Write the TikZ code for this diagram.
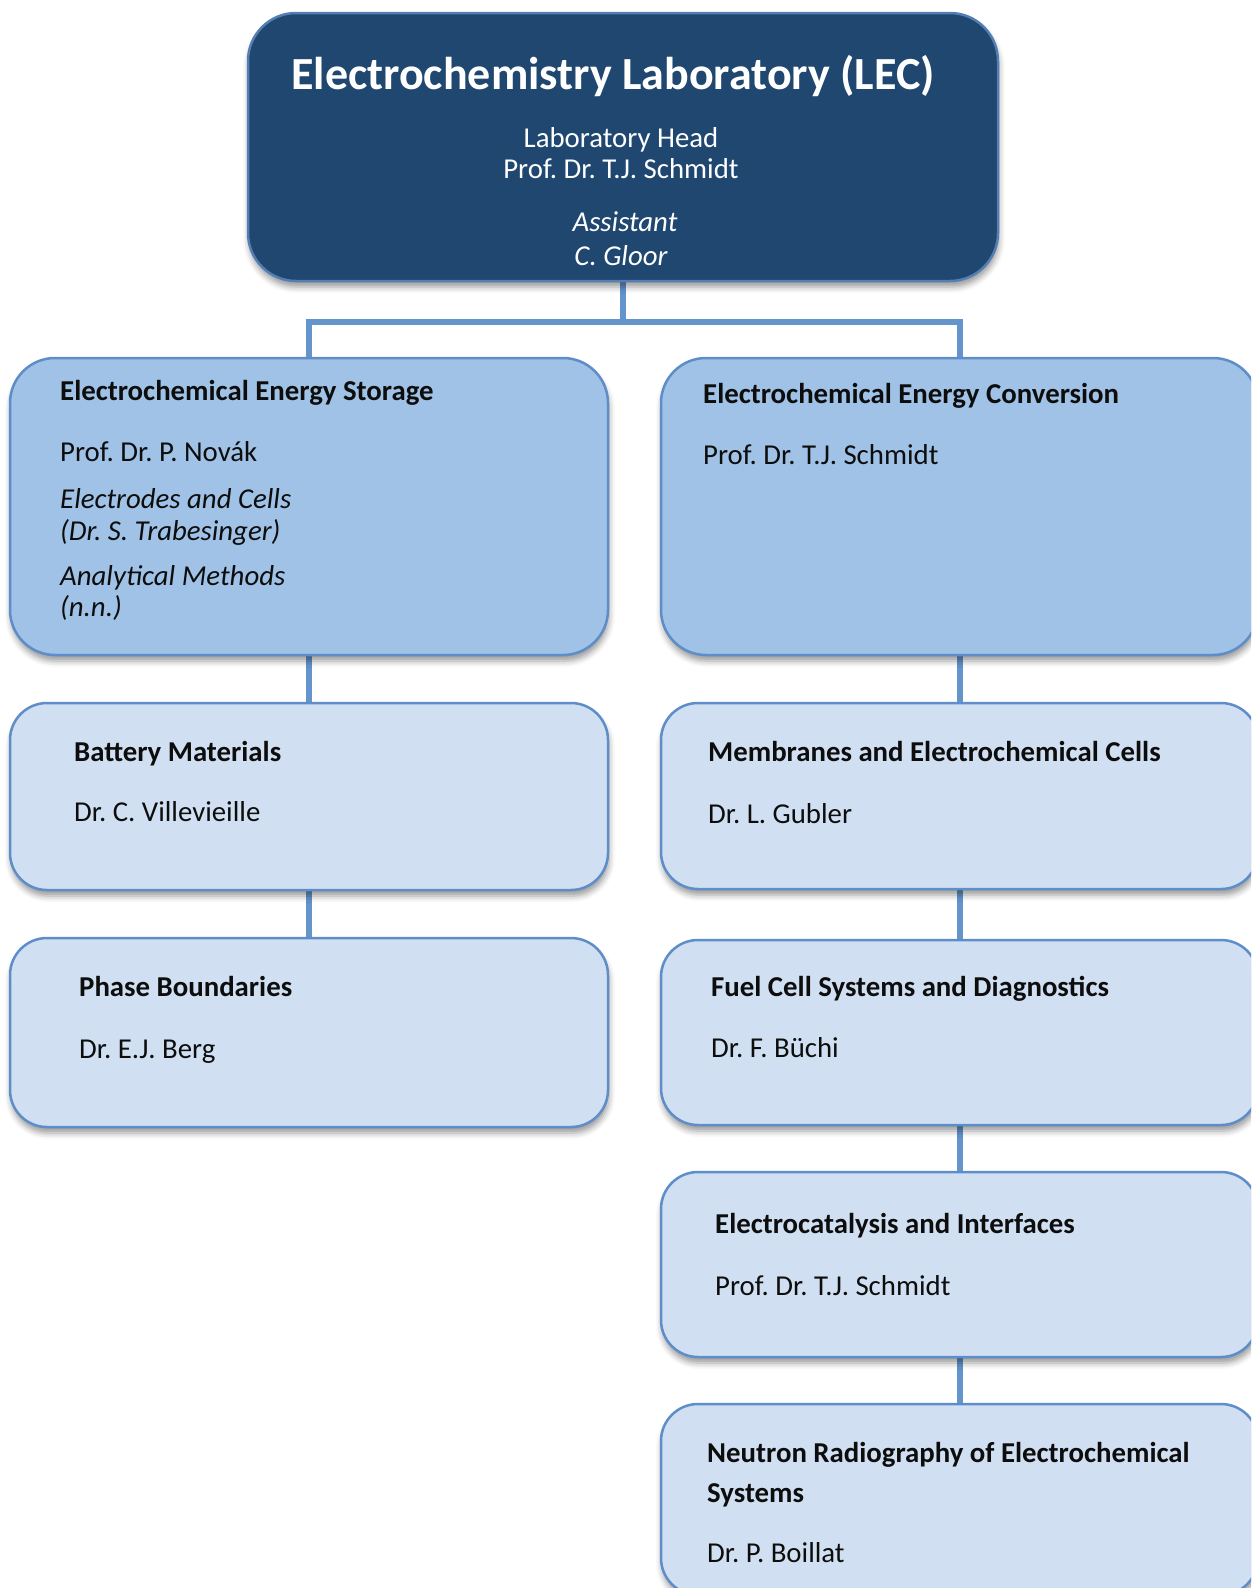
\documentclass[tikz,border=0pt]{standalone}
\usepackage{fontspec}
\setmainfont{Carlito}
\usepackage{xcolor}
\usepackage{tikz}
\usetikzlibrary{positioning,calc,shadows.blur}
\frenchspacing
\definecolor{HeadFill}{RGB}{31,71,112}
\definecolor{HeadLine}{RGB}{84,126,180}
\definecolor{DivFill}{RGB}{159,194,230}
\definecolor{GrpFill}{RGB}{208,224,242}
\definecolor{BoxLine}{RGB}{94,141,200}
\definecolor{LinkC}{RGB}{99,148,204}
\tikzset{
  orgbox/.style={rounded corners=40pt,line width=2.5pt,draw=BoxLine,
                 inner sep=0pt,outer sep=0pt,
                 blur shadow={shadow xshift=1pt,shadow yshift=-6pt,
                              shadow opacity=40,shadow blur radius=6pt}},
  head/.style={orgbox,fill=HeadFill,draw=HeadLine,rounded corners=48pt},
  division/.style={orgbox,fill=DivFill,rounded corners=45pt},
  group/.style={orgbox,fill=GrpFill,rounded corners=37pt},
  link/.style={line width=6pt,draw=LinkC},
  txt/.style={anchor=base west,inner sep=0pt,text=black!95,
              font=\fontsize{28.8}{34}\selectfont},
  ttl/.style={txt,font=\fontsize{28.8}{34}\selectfont\bfseries},
  itx/.style={txt,font=\fontsize{28.8}{34}\selectfont\itshape},
  htxt/.style={anchor=base,inner sep=0pt,text=white,
               font=\fontsize{28.8}{34}\selectfont},
}

\begin{document}
\begin{tikzpicture}[x=1pt,y=-1pt]
  \useasboundingbox (0,0) rectangle (1251,1588);
  \clip (0,0) rectangle (1251,1588);

  % connectors
  \coordinate (bar) at (623,322);
  \coordinate (lecfoot) at (623,281);
  \draw[link] (lecfoot) -- (bar);
  \draw[link] (309,358) |- (bar) -| (959.5,358);
  \draw[link] (309,655) -- (309,703);
  \draw[link] (309,890) -- (309,938);
  \draw[link] (959.5,655) -- (959.5,703);
  \draw[link] (959.5,889) -- (959.5,940);
  \draw[link] (959.5,1125) -- (959.5,1172);
  \draw[link] (959.5,1357) -- (959.5,1404);

  % laboratory head
  \node[head,minimum width=750pt,minimum height=268pt] (lec) at (623,147) {};
  \node[htxt,font=\fontsize{46}{54}\selectfont\bfseries] (lec-ttl) at (613,89)
    {Electrochemistry Laboratory (LEC)};
  \node[htxt] (lec-role) at (621,147) {Laboratory Head};
  \node[htxt] (lec-name) at (621,178) {Prof. Dr. T.J. Schmidt};
  \node[htxt,font=\fontsize{28.8}{34}\selectfont\itshape] (lec-asst) at (625,231) {Assistant};
  \node[htxt,font=\fontsize{28.8}{34}\selectfont\itshape] (lec-asnm) at (621,265) {C. Gloor};

  % storage column
  \node[division,minimum width=598pt,minimum height=297pt] (ees) at (309,506.5) {};
  \node[ttl] (ees-ttl) at (60,400) {Electrochemical Energy Storage};
  \node[txt] (ees-name) at (60,461) {Prof. Dr. P. Novák};
  \node[itx] (ees-ec) at (60,508) {Electrodes and Cells};
  \node[itx] (ees-ecn) at (60,540) {(Dr. S. Trabesinger)};
  \node[itx] (ees-am) at (60,585) {Analytical Methods};
  \node[itx] (ees-amn) at (60,616) {(n.n.)};

  \node[group,minimum width=598pt,minimum height=187pt] (bm) at (309,796.5) {};
  \node[ttl] (bm-ttl) at (74,761) {Battery Materials};
  \node[txt] (bm-name) at (74,821) {Dr. C. Villevieille};

  \node[group,minimum width=598pt,minimum height=189pt] (pb) at (309,1032.5) {};
  \node[ttl] (pb-ttl) at (79,996) {Phase Boundaries};
  \node[txt] (pb-name) at (79,1058) {Dr. E.J. Berg};

  % conversion column
  \node[division,minimum width=597pt,minimum height=297pt] (eec) at (959.5,506.5) {};
  \node[ttl] (eec-ttl) at (703,403) {Electrochemical Energy Conversion};
  \node[txt] (eec-name) at (703,464) {Prof. Dr. T.J. Schmidt};

  \node[group,minimum width=597pt,minimum height=186pt] (mec) at (959.5,796) {};
  \node[ttl] (mec-ttl) at (708,761) {Membranes and Electrochemical Cells};
  \node[txt] (mec-name) at (708,823) {Dr. L. Gubler};

  \node[group,minimum width=597pt,minimum height=185pt] (fcs) at (959.5,1032.5) {};
  \node[ttl] (fcs-ttl) at (711,996) {Fuel Cell Systems and Diagnostics};
  \node[txt] (fcs-name) at (711,1057) {Dr. F. Büchi};

  \node[group,minimum width=597pt,minimum height=185pt] (eci) at (959.5,1264.5) {};
  \node[ttl] (eci-ttl) at (715,1233) {Electrocatalysis and Interfaces};
  \node[txt] (eci-name) at (715,1295) {Prof. Dr. T.J. Schmidt};

  \node[group,minimum width=597pt,minimum height=191pt] (nr) at (959.5,1499.5) {};
  \node[ttl] (nr-ttl) at (707,1462) {Neutron Radiography of Electrochemical};
  \node[ttl] (nr-ttl2) at (707,1502) {Systems};
  \node[txt] (nr-name) at (707,1562) {Dr. P. Boillat};
\end{tikzpicture}
\end{document}
